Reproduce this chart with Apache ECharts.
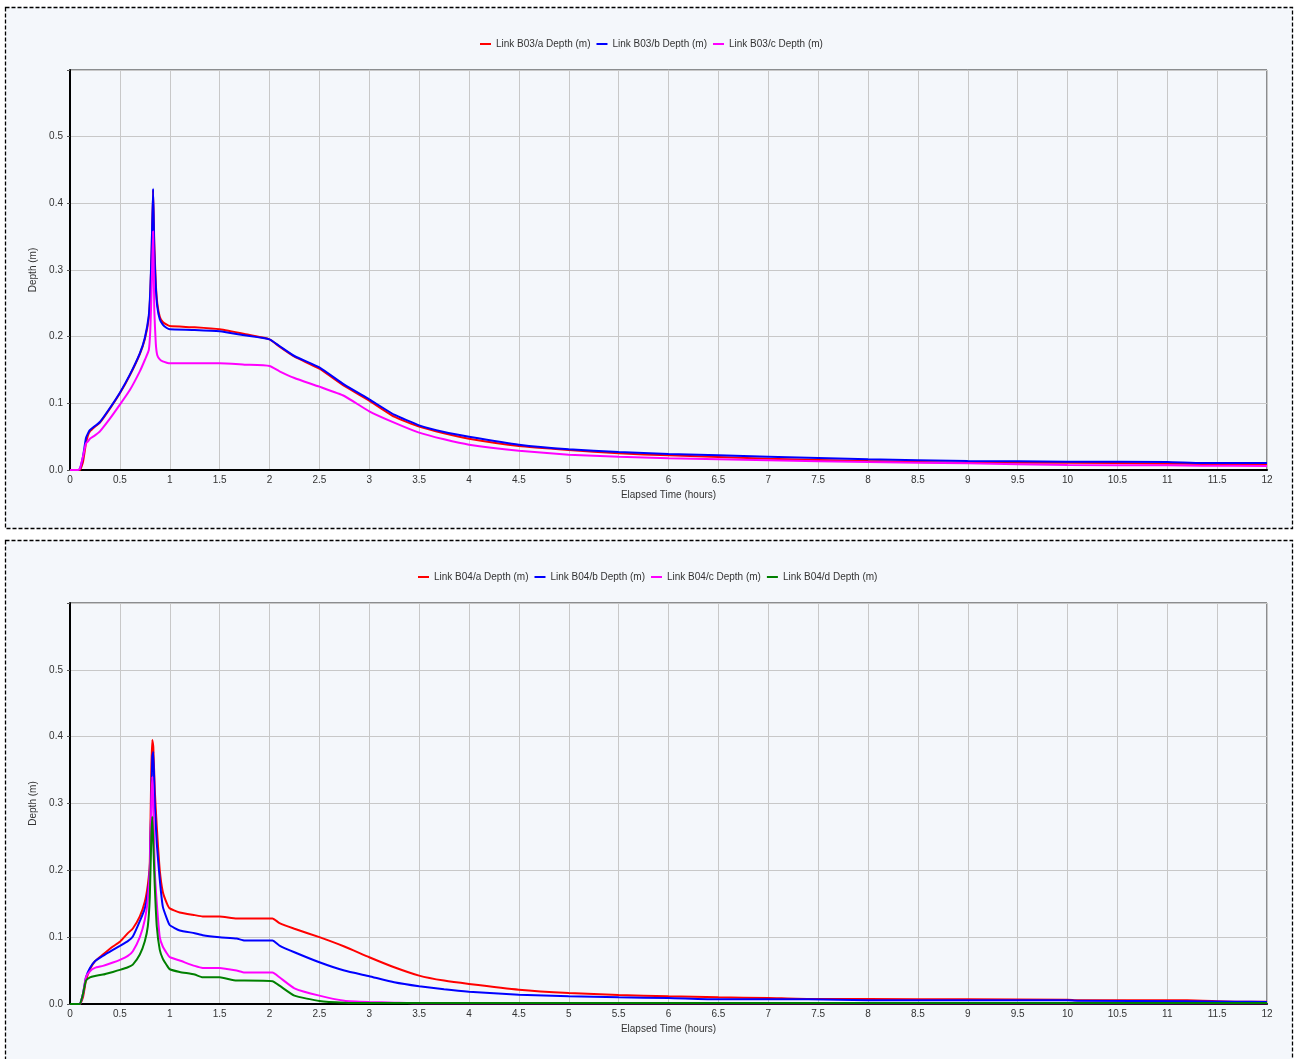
<!DOCTYPE html>
<html>
<head>
<meta charset="utf-8">
<script src="https://cdn.jsdelivr.net/npm/echarts@6/dist/echarts.min.js"></script>
<style>
  html, body { margin: 0; padding: 0; background: #ffffff; }
  #frames { position: absolute; left: 0; top: 0; }
  #chart { position: absolute; left: 0; top: 0; width: 1294px; height: 1059px; }
</style>
</head>
<body>
<svg id="frames" width="1294" height="1059">
  <rect x="5.5" y="7.5" width="1287" height="521" fill="#f4f7fb" stroke="#000" stroke-width="1.3" stroke-dasharray="4 2"/>
  <rect x="5.5" y="540.5" width="1287" height="530" fill="#f4f7fb" stroke="#000" stroke-width="1.3" stroke-dasharray="4 2"/>
</svg>
<div id="chart"></div>
<script>
// Elapsed time (hours) sampled for the B03 links
const timeB03 = [0, 0.08, 0.1, 0.13, 0.16, 0.18, 0.2, 0.25, 0.3, 0.4, 0.5, 0.6, 0.7, 0.75,
  0.79, 0.805, 0.818, 0.833, 0.845, 0.86, 0.875, 0.9, 0.93, 0.97, 1.0, 1.25, 1.5, 1.75, 2.0,
  2.1, 2.25, 2.5, 2.75, 3.0, 3.25, 3.5, 3.75, 4.0, 4.5, 5.0, 5.5, 6.0, 7.0, 8.0, 9.0, 10.0,
  11.0, 11.35, 12.0];
const depthB03a = [0, 0, 0, 0.012, 0.04, 0.052, 0.058, 0.065, 0.071, 0.092, 0.115, 0.142, 0.174, 0.196,
  0.228, 0.265, 0.325, 0.42, 0.34, 0.28, 0.25, 0.23, 0.222, 0.218, 0.216, 0.214, 0.211, 0.204, 0.196,
  0.185, 0.17, 0.152, 0.126, 0.104, 0.08, 0.065, 0.055, 0.047, 0.036, 0.03, 0.025, 0.022, 0.017, 0.0135, 0.011, 0.011,
  0.0095, 0.009, 0.008];
const depthB03b = [0, 0, 0.002, 0.02, 0.048, 0.055, 0.06, 0.066, 0.072, 0.093, 0.116, 0.143, 0.175, 0.198,
  0.232, 0.27, 0.33, 0.422, 0.33, 0.275, 0.245, 0.226, 0.218, 0.213, 0.211, 0.21, 0.208, 0.202, 0.196,
  0.186, 0.171, 0.154, 0.128, 0.106, 0.083, 0.067, 0.057, 0.05, 0.038, 0.031, 0.027, 0.024, 0.02, 0.016, 0.0135, 0.0125,
  0.012, 0.0105, 0.0105];
const depthB03c = [0, 0, 0.002, 0.02, 0.04, 0.043, 0.047, 0.052, 0.058, 0.077, 0.098, 0.12, 0.148, 0.165,
  0.18, 0.21, 0.27, 0.358, 0.24, 0.19, 0.172, 0.166, 0.163, 0.161, 0.16, 0.16, 0.16, 0.158, 0.156,
  0.148, 0.138, 0.125, 0.111, 0.088, 0.071, 0.056, 0.046, 0.038, 0.029, 0.023, 0.02, 0.0175, 0.0145, 0.012, 0.01, 0.0075,
  0.007, 0.0065, 0.006];

// Elapsed time (hours) sampled for the B04 links
const timeB04 = [0, 0.08, 0.1, 0.13, 0.16, 0.2, 0.25, 0.33, 0.43, 0.5, 0.58, 0.63, 0.7, 0.75, 0.78,
  0.8, 0.815, 0.825, 0.835, 0.85, 0.87, 0.9, 0.93, 0.97, 1.0, 1.1, 1.25, 1.33, 1.5, 1.67, 1.75,
  2.03, 2.1, 2.25, 2.5, 2.75, 3.0, 3.25, 3.5, 3.75, 4.0, 4.5, 5.0, 5.5, 6.0, 6.5, 7.0, 7.4, 8.0,
  9.0, 10.0, 10.1, 11.2, 11.7, 12.0];
const depthB04a = [0, 0, 0, 0.01, 0.035, 0.052, 0.064, 0.074, 0.086, 0.093, 0.106, 0.113, 0.131, 0.153, 0.178,
  0.21, 0.35, 0.395, 0.385, 0.32, 0.265, 0.2, 0.168, 0.151, 0.143, 0.137, 0.133, 0.131, 0.131, 0.128, 0.128,
  0.128, 0.121, 0.1125, 0.1, 0.086, 0.07, 0.055, 0.0425, 0.035, 0.03, 0.0215, 0.0165, 0.0135, 0.0115, 0.01, 0.009, 0.0075, 0.0075,
  0.007, 0.0065, 0.0055, 0.0055, 0.0035, 0.0035];
const depthB04b = [0, 0, 0, 0.015, 0.04, 0.054, 0.064, 0.072, 0.081, 0.087, 0.094, 0.101, 0.124, 0.143, 0.166,
  0.2, 0.3, 0.37, 0.377, 0.3, 0.24, 0.186, 0.146, 0.128, 0.118, 0.11, 0.106, 0.103, 0.1, 0.098, 0.095,
  0.095, 0.0875, 0.0775, 0.0625, 0.05, 0.0415, 0.0325, 0.0265, 0.022, 0.0185, 0.014, 0.0115, 0.01, 0.009, 0.007, 0.007, 0.007, 0.0055,
  0.0055, 0.0055, 0.005, 0.004, 0.0035, 0.003];
const depthB04c = [0, 0, 0, 0.015, 0.04, 0.049, 0.054, 0.057, 0.062, 0.066, 0.072, 0.079, 0.1, 0.126, 0.156,
  0.2, 0.3, 0.34, 0.3, 0.2, 0.151, 0.1, 0.086, 0.076, 0.07, 0.065, 0.057, 0.054, 0.054, 0.05, 0.047,
  0.047, 0.04, 0.0235, 0.0125, 0.005, 0.003, 0.002, 0.001, 0.001, 0.001, 0.001, 0.001, 0.001, 0.001, 0.001, 0.001, 0.001, 0.001,
  0.001, 0.001, 0.001, 0.001, 0.001, 0.001];
const depthB04d = [0, 0, 0, 0.015, 0.035, 0.04, 0.042, 0.044, 0.048, 0.051, 0.055, 0.059, 0.074, 0.094, 0.116,
  0.16, 0.25, 0.28, 0.24, 0.176, 0.116, 0.081, 0.068, 0.058, 0.052, 0.048, 0.044, 0.04, 0.04, 0.035, 0.035,
  0.034, 0.0275, 0.0125, 0.0045, 0.002, 0.0015, 0.0015, 0.0015, 0.0015, 0.0015, 0.0015, 0.0015, 0.0015, 0.0015, 0.0015, 0.0015, 0.0015, 0.0015,
  0.0015, 0.0015, 0.0015, 0.0015, 0.0015, 0.0015];

const namesB03 = ['Link B03/a Depth (m)', 'Link B03/b Depth (m)', 'Link B03/c Depth (m)'];
const namesB04 = ['Link B04/a Depth (m)', 'Link B04/b Depth (m)', 'Link B04/c Depth (m)', 'Link B04/d Depth (m)'];
const colours = ['#ff0000', '#0000ff', '#ff00ff', '#008000'];

const FONT = "'Liberation Sans', Arial, sans-serif";
const TXT = '#333333';

function pairs(t, v) { return t.map((x, i) => [x, v[i]]); }

function xAxisFor(gridIndex) {
  return {
    type: 'value', gridIndex, min: 0, max: 12, interval: 0.5,
    name: 'Elapsed Time (hours)', nameLocation: 'middle', nameGap: 20,
    nameTextStyle: { fontFamily: FONT, fontSize: 10, color: TXT },
    axisLine: { show: true, onZero: false, lineStyle: { color: '#000', width: 2 } },
    axisTick: { show: false },
    axisLabel: { fontFamily: FONT, fontSize: 10, color: TXT, margin: 5 },
    splitLine: { show: true, lineStyle: { color: '#c8c8c8', width: 1 } }
  };
}
function yAxisFor(gridIndex) {
  return {
    type: 'value', gridIndex, min: 0, max: 0.6, interval: 0.1,
    name: 'Depth (m)', nameLocation: 'middle', nameGap: 30, nameRotate: 90,
    nameTextStyle: { fontFamily: FONT, fontSize: 10, color: TXT },
    axisLine: { show: true, onZero: false, lineStyle: { color: '#000', width: 2 } },
    axisTick: { show: true, length: 3, lineStyle: { color: '#555' } },
    axisLabel: {
      fontFamily: FONT, fontSize: 10, color: TXT, margin: 7,
      formatter: v => (Math.abs(v - 0.6) < 1e-9 ? '' : v.toFixed(1))
    },
    splitLine: { show: true, lineStyle: { color: '#c8c8c8', width: 1 } }
  };
}
function legendFor(names, left, top) {
  return {
    data: names, left, top, orient: 'horizontal',
    icon: 'rect', itemWidth: 11, itemHeight: 2, itemGap: 6,
    textStyle: { fontFamily: FONT, fontSize: 10, color: TXT },
    selectedMode: false
  };
}
function lineSeries(name, t, v, idx, colour) {
  return {
    type: 'line', name, xAxisIndex: idx, yAxisIndex: idx,
    data: pairs(t, v), showSymbol: false, symbol: 'none',
    smooth: 0.15,
    lineStyle: { color: colour, width: 2 }, itemStyle: { color: colour },
    animation: false
  };
}

const chart = echarts.init(document.getElementById('chart'));
chart.setOption({
  backgroundColor: 'transparent',
  animation: false,
  legend: [legendFor(namesB03, 475, 34), legendFor(namesB04, 413, 567)],
  grid: [
    { left: 70, top: 70, width: 1197, height: 400, show: true, borderColor: '#222', borderWidth: 1, backgroundColor: 'transparent' },
    { left: 70, top: 603, width: 1197, height: 401, show: true, borderColor: '#222', borderWidth: 1, backgroundColor: 'transparent' }
  ],
  xAxis: [xAxisFor(0), xAxisFor(1)],
  yAxis: [yAxisFor(0), yAxisFor(1)],
  series: [
    lineSeries(namesB03[0], timeB03, depthB03a, 0, colours[0]),
    lineSeries(namesB03[1], timeB03, depthB03b, 0, colours[1]),
    lineSeries(namesB03[2], timeB03, depthB03c, 0, colours[2]),
    lineSeries(namesB04[0], timeB04, depthB04a, 1, colours[0]),
    lineSeries(namesB04[1], timeB04, depthB04b, 1, colours[1]),
    lineSeries(namesB04[2], timeB04, depthB04c, 1, colours[2]),
    lineSeries(namesB04[3], timeB04, depthB04d, 1, colours[3])
  ]
});
</script>
</body>
</html>
